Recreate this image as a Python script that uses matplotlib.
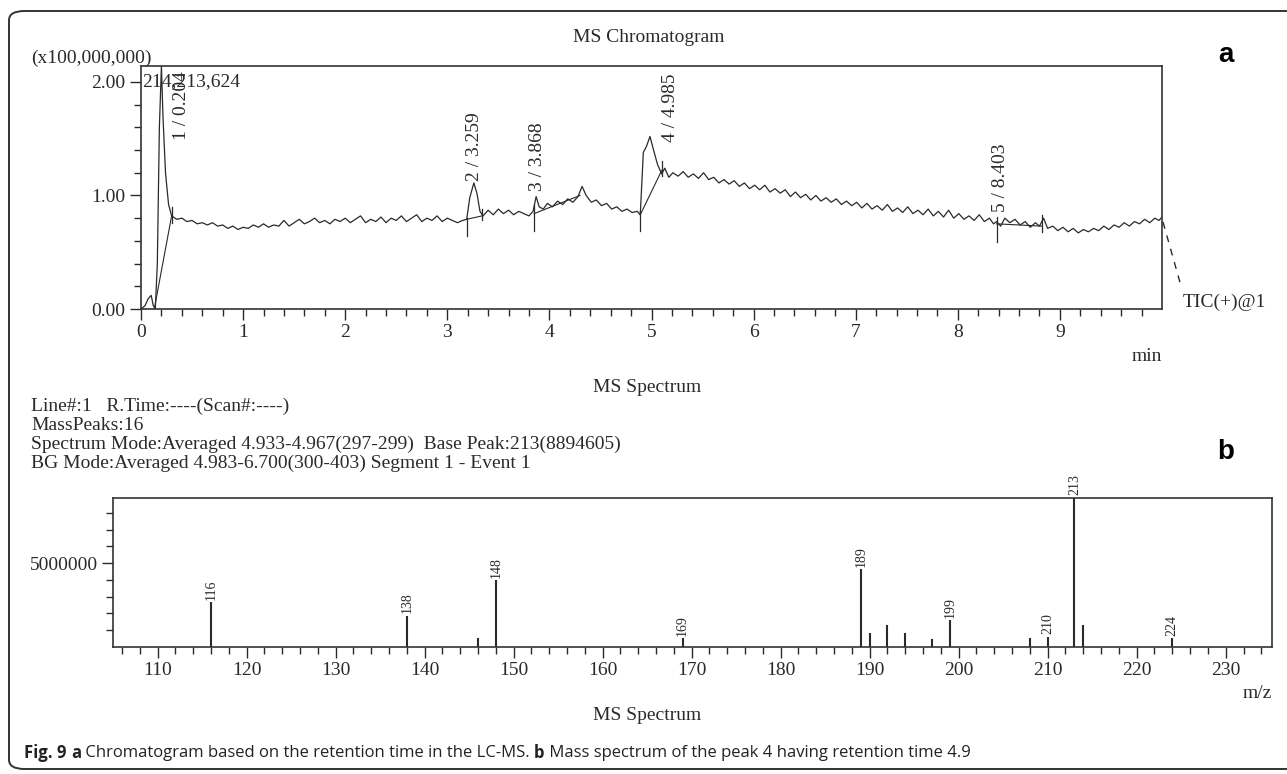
import matplotlib
matplotlib.use("Agg")
import matplotlib.pyplot as plt
from matplotlib.patches import FancyBboxPatch
from matplotlib.lines import Line2D
from matplotlib.ticker import FixedLocator, FuncFormatter

plt.rcParams['font.family'] = ['Liberation Serif', 'DejaVu Serif']
plt.rcParams['font.size'] = 14

W, H = 1287, 774
INK = '#2a2a2a'

# ---------------- data: chromatogram (TIC, x1e8) ----------------
tic_time = [
    0.00, 0.04, 0.07, 0.10, 0.12, 0.14, 0.16, 0.18, 0.20, 0.215,
    0.24, 0.27, 0.30, 0.35, 0.40, 0.45, 0.50, 0.55, 0.60, 0.65,
    0.70, 0.75, 0.80, 0.85, 0.90, 0.95, 1.00, 1.05, 1.10, 1.15,
    1.20, 1.25, 1.30, 1.35, 1.40, 1.45, 1.50, 1.55, 1.60, 1.65,
    1.70, 1.75, 1.80, 1.85, 1.90, 1.95, 2.00, 2.05, 2.10, 2.15,
    2.20, 2.25, 2.30, 2.35, 2.40, 2.45, 2.50, 2.55, 2.60, 2.65,
    2.70, 2.75, 2.80, 2.85, 2.90, 2.95, 3.00, 3.05, 3.10, 3.15,
    3.19, 3.22, 3.26, 3.29, 3.32, 3.35, 3.40, 3.45, 3.50, 3.55,
    3.60, 3.65, 3.70, 3.75, 3.80, 3.84, 3.87, 3.90, 3.94, 3.98,
    4.03, 4.08, 4.13, 4.18, 4.23, 4.28, 4.32, 4.36, 4.41, 4.46,
    4.51, 4.56, 4.61, 4.66, 4.71, 4.76, 4.81, 4.86, 4.89, 4.92,
    4.95, 4.985, 5.02, 5.06, 5.10, 5.13, 5.17, 5.21, 5.26, 5.31,
    5.36, 5.41, 5.46, 5.51, 5.56, 5.61, 5.66, 5.71, 5.76, 5.81,
    5.86, 5.91, 5.96, 6.01, 6.06, 6.11, 6.16, 6.21, 6.26, 6.31,
    6.36, 6.41, 6.46, 6.51, 6.56, 6.61, 6.66, 6.71, 6.76, 6.81,
    6.86, 6.91, 6.96, 7.01, 7.06, 7.11, 7.16, 7.21, 7.26, 7.31,
    7.36, 7.41, 7.46, 7.51, 7.56, 7.61, 7.66, 7.71, 7.76, 7.81,
    7.86, 7.91, 7.96, 8.01, 8.06, 8.11, 8.16, 8.21, 8.26, 8.31,
    8.35, 8.38, 8.42, 8.46, 8.51, 8.56, 8.61, 8.66, 8.71, 8.76,
    8.80, 8.84, 8.88, 8.93, 8.98, 9.03, 9.08, 9.13, 9.18, 9.23,
    9.28, 9.33, 9.38, 9.43, 9.48, 9.53, 9.58, 9.63, 9.68, 9.73,
    9.78, 9.83, 9.88, 9.93, 9.97, 10.00]
tic_value = [
    0.00, 0.03, 0.09, 0.12, 0.03, 0.00, 0.40, 1.60, 2.14, 1.70,
    1.20, 0.92, 0.82, 0.79, 0.80, 0.77, 0.78, 0.75, 0.76, 0.74,
    0.76, 0.73, 0.74, 0.71, 0.73, 0.70, 0.72, 0.71, 0.74, 0.72,
    0.75, 0.72, 0.74, 0.73, 0.78, 0.73, 0.76, 0.79, 0.75, 0.77,
    0.80, 0.76, 0.78, 0.75, 0.79, 0.77, 0.80, 0.76, 0.79, 0.82,
    0.76, 0.79, 0.77, 0.81, 0.76, 0.80, 0.78, 0.82, 0.77, 0.80,
    0.83, 0.77, 0.80, 0.78, 0.82, 0.77, 0.80, 0.78, 0.76, 0.78,
    0.79, 0.98, 1.11, 1.02, 0.86, 0.82, 0.87, 0.83, 0.88, 0.84,
    0.87, 0.83, 0.86, 0.84, 0.82, 0.86, 0.99, 0.90, 0.88, 0.93,
    0.90, 0.95, 0.92, 0.97, 0.94, 0.99, 1.08, 1.00, 0.94, 0.96,
    0.91, 0.93, 0.88, 0.90, 0.86, 0.88, 0.85, 0.86, 0.83, 1.38,
    1.43, 1.52, 1.40, 1.27, 1.19, 1.24, 1.16, 1.20, 1.17, 1.21,
    1.16, 1.19, 1.15, 1.20, 1.14, 1.16, 1.11, 1.14, 1.10, 1.13,
    1.08, 1.11, 1.06, 1.09, 1.05, 1.09, 1.03, 1.06, 1.02, 1.05,
    0.99, 1.03, 0.98, 1.01, 0.96, 1.00, 0.95, 0.98, 0.94, 0.97,
    0.92, 0.95, 0.91, 0.94, 0.89, 0.93, 0.88, 0.91, 0.87, 0.92,
    0.86, 0.89, 0.85, 0.90, 0.84, 0.87, 0.83, 0.88, 0.82, 0.86,
    0.81, 0.87, 0.80, 0.84, 0.79, 0.82, 0.78, 0.83, 0.77, 0.80,
    0.75, 0.77, 0.73, 0.80, 0.76, 0.79, 0.74, 0.77, 0.72, 0.76,
    0.73, 0.80, 0.71, 0.73, 0.69, 0.72, 0.68, 0.71, 0.67, 0.70,
    0.68, 0.71, 0.69, 0.73, 0.70, 0.74, 0.72, 0.76, 0.73, 0.77,
    0.75, 0.79, 0.76, 0.80, 0.78, 0.81]

# integration baselines (start, end) per peak
base_t0 = [0.13, 3.19, 3.85, 4.89, 8.38]
base_v0 = [0.00, 0.79, 0.84, 0.83, 0.75]
base_t1 = [0.30, 3.34, 4.30, 5.10, 8.82]
base_v1 = [0.82, 0.82, 1.00, 1.22, 0.73]
# peak boundary marks (time, low, high)
mark_t = [0.30, 3.19, 3.34, 3.85, 4.89, 5.10, 8.38, 8.82]
mark_lo = [0.76, 0.64, 0.78, 0.69, 0.69, 1.17, 0.59, 0.68]
mark_hi = [0.90, 0.80, 0.88, 0.92, 0.86, 1.30, 0.81, 0.83]

peak_labels = ["1 / 0.204", "2 / 3.259", "3 / 3.868", "4 / 4.985", "5 / 8.403"]
peak_label_t = [0.40, 3.27, 3.88, 5.19, 8.42]
peak_label_v = [1.49, 1.13, 1.04, 1.47, 0.85]

chrom_xticks = [0, 1, 2, 3, 4, 5, 6, 7, 8, 9]
chrom_yticks = [0.0, 1.0, 2.0]

# ---------------- data: mass spectrum ----------------
mz = [116, 138, 146, 148, 169, 189, 190, 192, 194, 197, 199, 208, 210, 213, 214, 224]
intensity = [2680000, 1850000, 550000, 3990000, 530000, 4640000, 830000, 1310000,
             830000, 500000, 1600000, 550000, 600000, 8894605, 1310000, 530000]
labeled_mz = [116, 138, 148, 169, 189, 199, 210, 213, 224]
spec_xticks = [110, 120, 130, 140, 150, 160, 170, 180, 190, 200, 210, 220, 230]
spec_yticks = [5000000]

info_lines = ["Line#:1   R.Time:----(Scan#:----)",
              "MassPeaks:16",
              "Spectrum Mode:Averaged 4.933-4.967(297-299)  Base Peak:213(8894605)",
              "BG Mode:Averaged 4.983-6.700(300-403) Segment 1 - Event 1"]

# ---------------- figure ----------------
fig = plt.figure(figsize=(W / 100, H / 100), dpi=100)


def fx(px):
    return px / W


def fy(py):
    return 1 - py / H


# outer rounded frame
frame = FancyBboxPatch((fx(9), fy(769)), fx(1320), fy(11) - fy(769),
                       boxstyle="round,pad=0,rounding_size=0.012",
                       transform=fig.transFigure, fill=False, lw=1.4,
                       ec='#333333', clip_on=True)
fig.patches.append(frame)

# ---- panel a ----
axa = fig.add_axes([fx(141), fy(309), fx(1162) - fx(141), fy(66) - fy(309)])
axa.plot(tic_time, tic_value, color=INK, lw=0.9)
for t0, v0, t1, v1 in zip(base_t0, base_v0, base_t1, base_v1):
    axa.plot([t0, t1], [v0, v1], color=INK, lw=0.8)
for t, lo, hi in zip(mark_t, mark_lo, mark_hi):
    axa.plot([t, t], [lo, hi], color=INK, lw=0.9)
for lab, t, v in zip(peak_labels, peak_label_t, peak_label_v):
    axa.text(t, v, lab, rotation=90, ha='center', va='bottom', fontsize=14, color=INK)
axa.text(0.01, 2.0, "214,213,624", ha='left', va='center', fontsize=14, color=INK)
axa.set_xlim(0, 10.0)
axa.set_ylim(0, 2.14)
axa.xaxis.set_major_locator(FixedLocator(chrom_xticks))
axa.xaxis.set_minor_locator(FixedLocator([i * 0.2 for i in range(50) if i % 5]))
axa.yaxis.set_major_locator(FixedLocator(chrom_yticks))
axa.yaxis.set_minor_locator(FixedLocator([0.2, 0.4, 0.6, 0.8, 1.2, 1.4, 1.6, 1.8]))
axa.yaxis.set_major_formatter(FuncFormatter(lambda v, p: f"{v:.2f}"))
axa.tick_params(which='major', direction='out', length=8, width=1.0, colors=INK, pad=3)
axa.tick_params(which='minor', direction='out', length=5, width=1.0, colors=INK)
for s in axa.spines.values():
    s.set_linewidth(1.2)
    s.set_color('#333333')

fig.text(fx(649), fy(38), "MS Chromatogram", ha='center', va='center', fontsize=14, color=INK)
fig.text(fx(31), fy(58), "(x100,000,000)", ha='left', va='center', fontsize=14, color=INK)
fig.text(fx(1162), fy(357), "min", ha='right', va='center', fontsize=14, color=INK)
fig.text(fx(1183), fy(302), "TIC(+)@1", ha='left', va='center', fontsize=14, color=INK)
fig.lines.append(Line2D([fx(1163), fx(1181)], [fy(222), fy(286)], transform=fig.transFigure,
                        color=INK, lw=1.0, ls=(0, (5, 5))))
fig.text(fx(1226), fy(55), "a", ha='center', va='center', fontsize=20, fontweight='bold',
         family=['Liberation Sans', 'DejaVu Sans'], color='black')

# ---- middle text ----
fig.text(fx(647), fy(387), "MS Spectrum", ha='center', va='center', fontsize=14, color=INK)
for i, line in enumerate(info_lines):
    fig.text(fx(31), fy(406 + i * 19), line, ha='left', va='center', fontsize=14, color=INK)
fig.text(fx(1226), fy(452), "b", ha='center', va='center', fontsize=20, fontweight='bold',
         family=['Liberation Sans', 'DejaVu Sans'], color='black')

# ---- panel b ----
axb = fig.add_axes([fx(113), fy(647), fx(1272) - fx(113), fy(498) - fy(647)])
axb.vlines(mz, 0, intensity, color=INK, lw=1.5)
for m, v in zip(mz, intensity):
    if m in labeled_mz:
        axb.text(m, v + 150000, str(m), rotation=90, ha='center', va='bottom',
                 fontsize=10, color=INK)
axb.set_xlim(105, 235.2)
axb.set_ylim(0, 8894605)
axb.xaxis.set_major_locator(FixedLocator(spec_xticks))
axb.xaxis.set_minor_locator(FixedLocator([m for m in range(106, 236, 2) if m % 10]))
axb.yaxis.set_major_locator(FixedLocator(spec_yticks))
axb.yaxis.set_major_formatter(FuncFormatter(lambda v, p: f"{int(round(v))}"))
axb.yaxis.set_minor_locator(FixedLocator([1e6, 2e6, 3e6, 4e6, 6e6, 7e6, 8e6]))
axb.tick_params(which='major', direction='out', length=8, width=1.0, colors=INK, pad=3)
axb.tick_params(which='minor', direction='out', length=5, width=1.0, colors=INK)
for s in axb.spines.values():
    s.set_linewidth(1.2)
    s.set_color('#333333')

fig.text(fx(1272), fy(693), "m/z", ha='right', va='center', fontsize=14, color=INK)
fig.text(fx(647), fy(716), "MS Spectrum", ha='center', va='center', fontsize=14, color=INK)

# ---- caption ----
cap_font = ['Open Sans', 'DejaVu Sans']
parts = [("Fig. 9 ", 'bold'), ("a", 'bold'),
         (" Chromatogram based on the retention time in the LC-MS. ", 'normal'),
         ("b", 'bold'), (" Mass spectrum of the peak 4 having retention time 4.9", 'normal')]
fig.canvas.draw()
renderer = fig.canvas.get_renderer()
x = fx(24)
for txt, wt in parts:
    t = fig.text(x, fy(753), txt, ha='left', va='center', fontsize=12, fontweight=wt,
                 family=cap_font, color='#222222')
    bb = t.get_window_extent(renderer=renderer)
    x += bb.width / W

fig.savefig("out.png", dpi=100)
